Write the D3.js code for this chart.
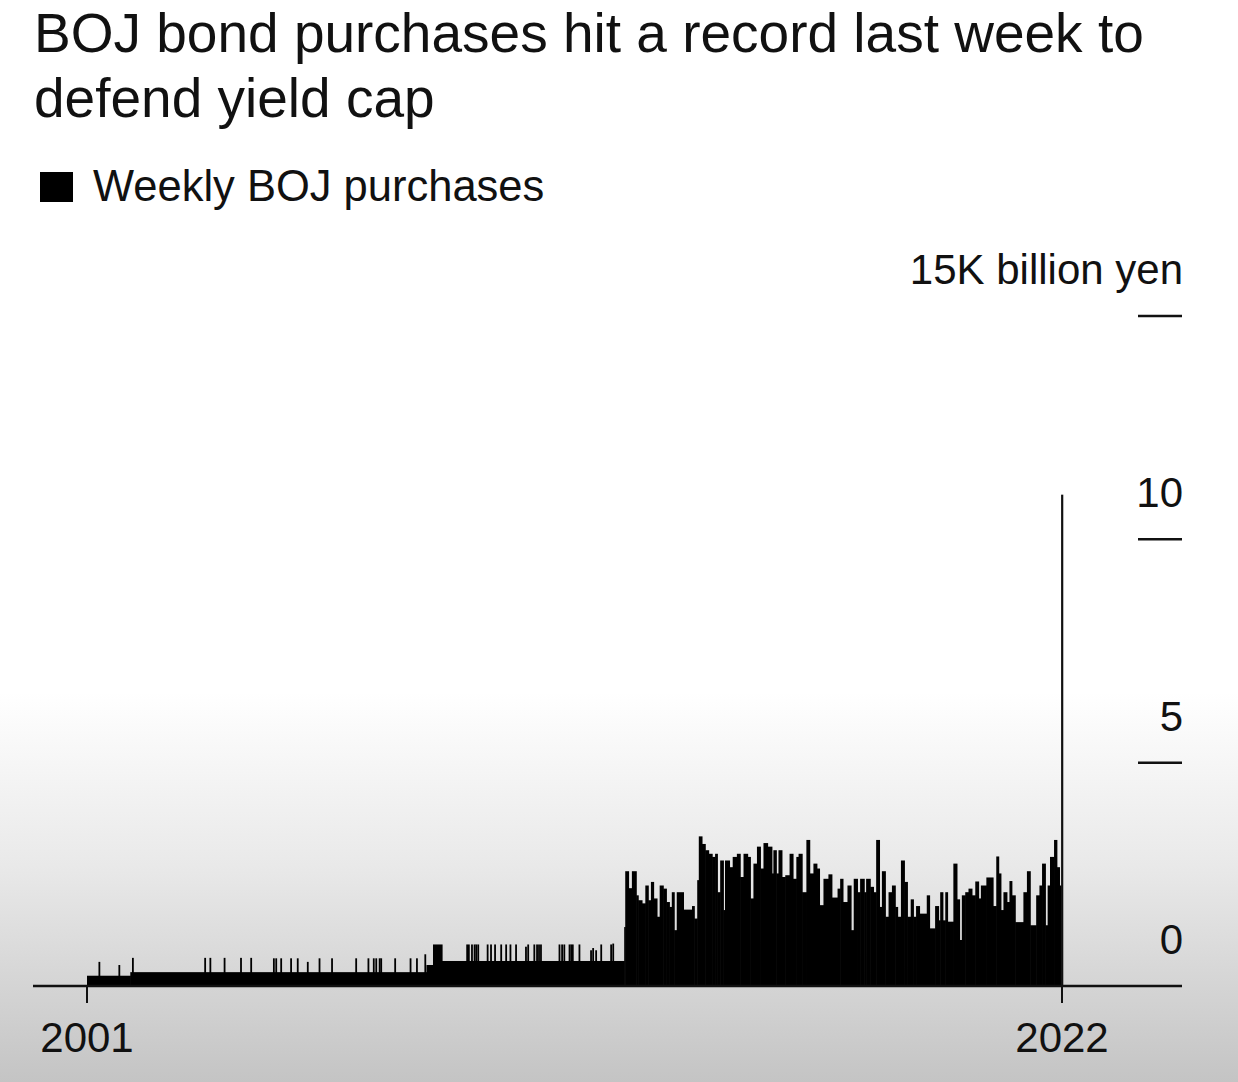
<!DOCTYPE html>
<html>
<head>
<meta charset="utf-8">
<script src="https://cdn.jsdelivr.net/npm/d3@7"></script>
<style>
    body { margin: 0; background: #fff; }
    svg text { font-family: "Liberation Sans", Arial, sans-serif; fill: #111; }
</style>
</head>
<body>
<svg id="chart"></svg>
<script>

// texts
var titleLines = ["BOJ bond purchases hit a record last week to", "defend yield cap"];
var legendLabel = "Weekly BOJ purchases";
var unitLabel = "K billion yen";
var yTicks = [0, 5, 10, 15];
var xTickLabels = ["2001", "2022"];

// first and last week of the series
var firstWeek = "2001-12-28",
    lastWeek = "2022-06-17";

// purchase level (thousand billion yen) from each start date until the next one
var levelStart = [
    "2001-12-28", "2002-11-25", "2009-02-12", "2009-04-03", "2009-06-11", "2013-04-08",
    "2013-04-16", "2013-05-11", "2013-06-06", "2013-07-09", "2013-07-24", "2013-08-22",
    "2013-09-17", "2013-10-09", "2013-10-30", "2013-11-19", "2013-12-15", "2014-01-05",
    "2014-02-01", "2014-02-25", "2014-03-20", "2014-04-08", "2014-04-26", "2014-05-16",
    "2014-07-06", "2014-09-10", "2014-09-27", "2014-10-20", "2014-11-01", "2014-11-25",
    "2014-12-20", "2015-01-15", "2015-02-11", "2015-03-06", "2015-03-23", "2015-04-14",
    "2015-05-08", "2015-05-21", "2015-06-24", "2015-07-19", "2015-08-20", "2015-09-14",
    "2015-10-10", "2015-11-10", "2015-12-01", "2015-12-25", "2016-01-21", "2016-02-16",
    "2016-03-11", "2016-04-11", "2016-05-14", "2016-05-26", "2016-06-17", "2016-07-04",
    "2016-07-30", "2016-08-25", "2016-09-27", "2016-10-23", "2016-11-18", "2016-12-05",
    "2017-01-01", "2017-02-03", "2017-02-28", "2017-03-29", "2017-04-24", "2017-05-14",
    "2017-06-14", "2017-07-22", "2017-08-17", "2017-09-30", "2017-10-20", "2017-11-10",
    "2017-12-15", "2018-01-11", "2018-02-01", "2018-03-01", "2018-03-22", "2018-04-22",
    "2018-05-07", "2018-06-07", "2018-07-02", "2018-07-23", "2018-08-17", "2018-09-05",
    "2018-10-01", "2018-10-26", "2018-11-21", "2018-12-16", "2019-01-03", "2019-01-29",
    "2019-02-24", "2019-03-19", "2019-04-14", "2019-05-04", "2019-05-25", "2019-06-20",
    "2019-08-15", "2019-09-05", "2019-10-18", "2019-11-13", "2019-11-26", "2019-12-16",
    "2020-01-04", "2020-01-21", "2020-03-06", "2020-04-02", "2020-04-22", "2020-05-10",
    "2020-06-05", "2020-06-30", "2020-07-26", "2020-08-21", "2020-09-15", "2020-10-03",
    "2020-11-14", "2021-01-04", "2021-01-29", "2021-02-16", "2021-03-05", "2021-03-25",
    "2021-04-20", "2021-05-10", "2021-05-28", "2021-06-23", "2021-08-25", "2021-09-21",
    "2021-10-16", "2021-12-01", "2021-12-26", "2022-01-15", "2022-02-09", "2022-02-27",
    "2022-03-17", "2022-04-17", "2022-05-08", "2022-05-28"
];
var levelValue = [
    0.23, 0.31, 0.47, 0.93, 0.56, 1.32,
    2.57, 2.19, 2.57, 2.03, 1.92, 1.85,
    2.25, 1.92, 2.33, 1.96, 1.55, 2.25,
    2.18, 1.88, 1.77, 2.10, 1.25, 2.10,
    1.71, 1.79, 1.51, 2.37, 3.35, 3.18,
    3.04, 2.96, 2.89, 2.96, 2.10, 2.81,
    1.70, 2.81, 2.66, 2.89, 2.96, 2.44,
    2.96, 2.89, 1.96, 2.74, 3.12, 2.63,
    3.20, 3.12, 2.52, 3.04, 2.52, 3.04,
    2.44, 2.48, 2.96, 2.40, 2.89, 2.96,
    2.10, 3.27, 2.52, 2.74, 2.63, 1.81,
    2.40, 2.50, 1.98, 2.18, 2.40, 1.88,
    2.25, 1.25, 2.40, 2.10, 2.40, 2.10,
    2.40, 2.22, 2.10, 3.27, 1.77, 2.57,
    1.55, 2.10, 2.25, 1.77, 1.55, 2.81,
    2.33, 1.55, 1.94, 1.55, 1.79, 1.62,
    2.03, 1.29, 1.79, 1.47, 2.10, 1.47,
    2.10, 1.44, 2.74, 1.94, 1.03, 2.03,
    2.10, 2.18, 2.03, 2.34, 1.96, 2.25,
    2.43, 1.79, 2.90, 2.52, 1.70, 2.10,
    1.88, 2.35, 2.03, 1.43, 2.10, 2.57,
    1.36, 2.03, 2.25, 2.74, 1.36, 2.25,
    2.89, 3.27, 2.66, 2.25
];

// single weeks with extra operations before 2013
var spikeWeek = [
    "2002-03-26", "2002-08-26", "2002-12-08", "2004-06-14", "2004-07-24", "2004-11-10",
    "2005-03-16", "2005-06-02", "2005-11-23", "2005-12-11", "2006-01-18", "2006-04-04",
    "2006-05-25", "2006-08-10", "2006-11-08", "2007-02-12", "2007-08-16", "2007-11-18",
    "2007-12-29", "2008-01-17", "2008-02-12", "2008-02-24", "2008-06-10", "2008-10-06",
    "2008-11-24", "2009-01-27", "2009-12-14", "2009-12-27", "2010-01-20", "2010-02-09",
    "2010-02-22", "2010-03-09", "2010-05-20", "2010-06-15", "2010-07-16", "2010-09-01",
    "2010-10-09", "2010-11-11", "2010-12-24", "2011-03-10", "2011-03-27", "2011-05-13",
    "2011-06-03", "2011-06-18", "2011-07-03", "2011-11-22", "2011-12-12", "2011-12-29",
    "2012-02-07", "2012-02-20", "2012-03-03", "2012-04-23", "2012-07-21", "2012-08-06",
    "2012-08-29", "2012-10-07", "2012-12-22", "2013-01-07"
];
var spikeValue = [
    0.54, 0.47, 0.63, 0.63, 0.63, 0.63,
    0.63, 0.63, 0.62, 0.62, 0.62, 0.62,
    0.62, 0.54, 0.62, 0.62, 0.62, 0.62,
    0.62, 0.62, 0.62, 0.62, 0.62, 0.62,
    0.62, 0.71, 0.93, 0.93, 0.93, 0.93,
    0.93, 0.93, 0.93, 0.93, 0.93, 0.93,
    0.93, 0.93, 0.93, 0.88, 0.93, 0.93,
    0.93, 0.93, 0.93, 0.93, 0.93, 0.93,
    0.93, 0.93, 0.93, 0.93, 0.80, 0.85,
    0.80, 0.93, 0.93, 0.95
];

// the record week
var recordWeek = "2022-06-10",
    recordValue = 11.0;


var width = 1238,
    height = 1082;

var parse = d3.utcParse("%Y-%m-%d");

var svg = d3.select("#chart")
    .attr("width", width)
    .attr("height", height);

// grey fade at the bottom of the frame
var grad = svg.append("defs").append("linearGradient")
    .attr("id", "fade")
    .attr("gradientUnits", "userSpaceOnUse")
    .attr("x1", 0).attr("x2", 0)
    .attr("y1", 0).attr("y2", height);
grad.append("stop").attr("offset", 0.64).attr("stop-color", "#ffffff");
grad.append("stop").attr("offset", 0.8).attr("stop-color", "#e9e9e9");
grad.append("stop").attr("offset", 1).attr("stop-color", "#c4c4c4");

svg.append("rect")
    .attr("width", width)
    .attr("height", height)
    .attr("fill", "url(#fade)");

// title
svg.append("g")
    .selectAll("text")
    .data(titleLines)
    .enter().append("text")
    .attr("x", 34)
    .attr("y", function (d, i) { return 52 + i * 65; })
    .style("font-size", "55px")
    .text(function (d) { return d; });

// legend
svg.append("rect")
    .attr("x", 40).attr("y", 172)
    .attr("width", 33).attr("height", 30)
    .attr("fill", "#000");
svg.append("text")
    .attr("x", 93)
    .attr("y", 201)
    .style("font-size", "43.5px")
    .text(legendLabel);

// scales
var x = d3.scaleUtc()
    .domain([parse(firstWeek), parse(lastWeek)])
    .range([87, 1062]);

var y = d3.scaleLinear()
    .domain([0, 15])
    .range([986, 316]);

var axisLeft = 33,
    axisRight = 1182;

// level bars
var levels = levelStart.map(function (d, i) {
    var end = i < levelStart.length - 1 ? levelStart[i + 1] : recordWeek;
    return {start: parse(d), end: parse(end), value: levelValue[i]};
});

svg.append("g")
    .attr("class", "levels")
    .selectAll("rect")
    .data(levels)
    .enter().append("rect")
    .attr("x", function (d) { return x(d.start); })
    .attr("width", function (d) { return x(d.end) - x(d.start) + 0.6; })
    .attr("y", function (d) { return y(d.value); })
    .attr("height", function (d) { return y(0) - y(d.value); })
    .attr("fill", "#000");

// spikes, one week each
var spikes = spikeWeek.map(function (d, i) {
    return {start: parse(d), value: spikeValue[i]};
});

svg.append("g")
    .attr("class", "spikes")
    .selectAll("rect")
    .data(spikes)
    .enter().append("rect")
    .attr("x", function (d) { return x(d.start); })
    .attr("width", function (d) {
        return Math.max(x(d3.utcDay.offset(d.start, 7)) - x(d.start), 1.8);
    })
    .attr("y", function (d) { return y(d.value); })
    .attr("height", function (d) { return y(0) - y(d.value); })
    .attr("fill", "#000");

// record week
svg.append("rect")
    .attr("x", x(parse(recordWeek)))
    .attr("width", Math.max(x(parse(lastWeek)) - x(parse(recordWeek)), 2.2))
    .attr("y", y(recordValue))
    .attr("height", y(0) - y(recordValue))
    .attr("fill", "#111");

// x axis line and end ticks
svg.append("line")
    .attr("x1", axisLeft).attr("x2", axisRight)
    .attr("y1", y(0)).attr("y2", y(0))
    .attr("stroke", "#111")
    .attr("stroke-width", 2.5);

var xTicks = [parse(firstWeek), parse(lastWeek)];

var gx = svg.append("g")
    .selectAll("g")
    .data(xTicks)
    .enter().append("g")
    .attr("transform", function (d) { return "translate(" + x(d) + "," + y(0) + ")"; });

gx.append("line")
    .attr("y1", 0).attr("y2", 17)
    .attr("stroke", "#111")
    .attr("stroke-width", 2);

gx.append("text")
    .attr("y", 66)
    .attr("text-anchor", "middle")
    .style("font-size", "42px")
    .text(function (d, i) { return xTickLabels[i]; });

// y axis on the right
var gy = svg.append("g")
    .selectAll("g")
    .data(yTicks)
    .enter().append("g")
    .attr("transform", function (d) { return "translate(0," + y(d) + ")"; });

gy.filter(function (d) { return d > 0; })
    .append("line")
    .attr("x1", 1138).attr("x2", axisRight)
    .attr("stroke", "#111")
    .attr("stroke-width", 2.5);

gy.append("text")
    .attr("x", axisRight + 1)
    .attr("y", -32)
    .attr("text-anchor", "end")
    .style("font-size", "42px")
    .text(function (d) { return d == 15 ? d + unitLabel : d; });

</script>
</body>
</html>
